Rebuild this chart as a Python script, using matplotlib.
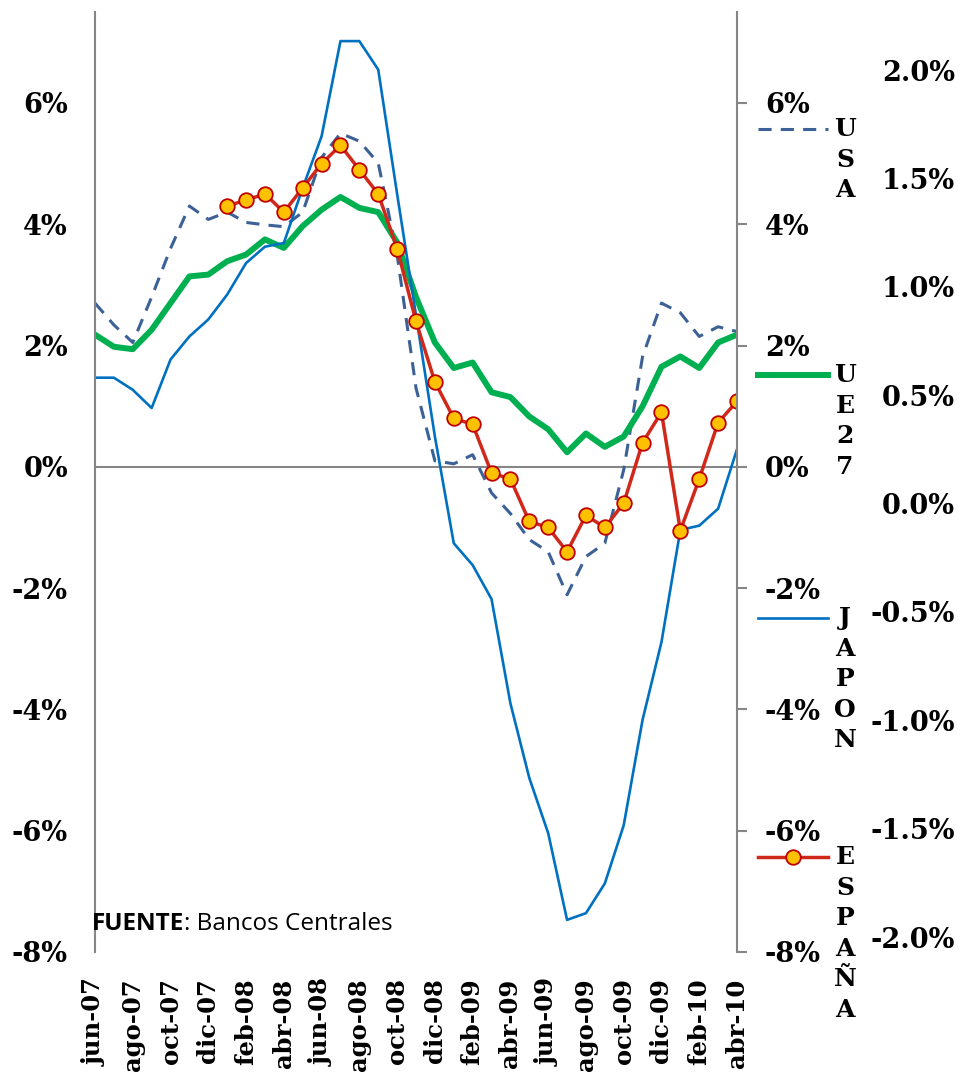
import numpy as np
import matplotlib
matplotlib.use('Agg')
import matplotlib.pyplot as plt
from matplotlib.lines import Line2D
from matplotlib.ticker import FuncFormatter

# monthly series, jun-07 .. abr-10 (% interanual)
meses = ['jun-07', 'jul-07', 'ago-07', 'sep-07', 'oct-07', 'nov-07', 'dic-07',
         'ene-08', 'feb-08', 'mar-08', 'abr-08', 'may-08', 'jun-08', 'jul-08',
         'ago-08', 'sep-08', 'oct-08', 'nov-08', 'dic-08', 'ene-09', 'feb-09',
         'mar-09', 'abr-09', 'may-09', 'jun-09', 'jul-09', 'ago-09', 'sep-09',
         'oct-09', 'nov-09', 'dic-09', 'ene-10', 'feb-10', 'mar-10', 'abr-10']

usa = [2.7, 2.34, 2.05, 2.8, 3.6, 4.3, 4.08, 4.2, 4.03, 3.99, 3.96, 4.2,
       5.1, 5.5, 5.37, 5.01, 3.5, 1.3, 0.1, 0.05, 0.2, -0.43, -0.77, -1.2,
       -1.4, -2.11, -1.48, -1.26, -0.05, 1.82, 2.7, 2.54, 2.15, 2.31, 2.23]

ue27 = [2.18, 1.98, 1.94, 2.26, 2.7, 3.14, 3.17, 3.39, 3.5, 3.75, 3.61, 3.97,
        4.24, 4.45, 4.27, 4.2, 3.7, 2.8, 2.05, 1.63, 1.72, 1.23, 1.15, 0.83,
        0.62, 0.24, 0.55, 0.33, 0.5, 1.0, 1.65, 1.82, 1.63, 2.05, 2.18]

japon = [1.47, 1.47, 1.27, 0.97, 1.77, 2.15, 2.43, 2.84, 3.36, 3.63, 3.69, 4.6,
         5.45, 7.02, 7.02, 6.55, 4.5, 2.5, 0.5, -1.26, -1.62, -2.18, -3.9, -5.13,
         -6.04, -7.47, -7.36, -6.87, -5.91, -4.17, -2.89, -1.04, -0.97, -0.69, 0.29]

espana = [np.nan] * 7 + [4.3, 4.4, 4.5, 4.2, 4.6, 5.0, 5.3, 4.9, 4.5, 3.6, 2.4,
                         1.4, 0.8, 0.7, -0.1, -0.2, -0.9, -1.0, -1.4, -0.8, -1.0,
                         -0.6, 0.4, 0.9, -1.05, -0.2, 0.73, 1.08]

ticks_izq = [-8, -6, -4, -2, 0, 2, 4, 6]
ticks_der = [-2.0, -1.5, -1.0, -0.5, 0.0, 0.5, 1.0, 1.5, 2.0]

C_USA = '#3C6196'
C_UE = '#00B050'
C_JAP = '#0070C0'
C_ESP = '#D0281A'
C_MARK = '#FFC000'
GRIS = '#868686'
SERIF = 'DejaVu Serif'
FS = 19.5

W, H = 963, 1079
fig = plt.figure(figsize=(W / 100, H / 100), dpi=100)
ax = fig.add_axes([95 / W, 1 - 952 / H, (737 - 95) / W, (952 - 12) / H])

x = np.arange(len(meses))
ax.plot(x, usa, color=C_USA, lw=2.2, dashes=(4.3, 3.0))
ax.plot(x, ue27, color=C_UE, lw=4.3)
ax.plot(x, japon, color=C_JAP, lw=1.9)
ax.plot(x, espana, color=C_ESP, lw=2.5, marker='o', ms=10.5,
        mfc=C_MARK, mec='#C00000', mew=1.3)

ax.axhline(0, color=GRIS, lw=1.5, zorder=1)
ax.set_xlim(0, len(meses) - 1)
ax.set_ylim(-8, 7.5)

pct = FuncFormatter(lambda v, p: f'{v:.0f}%')
ax.set_yticks(ticks_izq)
ax.yaxis.set_major_formatter(pct)
ax.tick_params(axis='y', length=0, pad=19.5, labelsize=FS)
ax.set_xticks(x[::2])
ax.set_xticklabels(meses[::2], rotation=90)
ax.tick_params(axis='x', length=0, pad=19, labelsize=17.5)
for s in ['top', 'bottom', 'right']:
    ax.spines[s].set_visible(False)
ax.spines['left'].set_color(GRIS)
ax.spines['left'].set_linewidth(1.5)

# middle axis (same scale as left)
ax2 = ax.twinx()
ax2.set_ylim(ax.get_ylim())
ax2.set_yticks(ticks_izq)
ax2.yaxis.set_major_formatter(pct)
ax2.tick_params(axis='y', length=7, width=1.5, color=GRIS, pad=13, labelsize=FS)
for s in ['top', 'bottom', 'left']:
    ax2.spines[s].set_visible(False)
ax2.spines['right'].set_color(GRIS)
ax2.spines['right'].set_linewidth(1.5)

# far right secondary scale
ax3 = ax.twinx()
ax3.set_ylim(-2.069, 2.268)
ax3.set_yticks(ticks_der)
ax3.yaxis.set_major_formatter(FuncFormatter(lambda v, p: f'{v:.1f}%'))
ax3.tick_params(axis='y', length=0, pad=157, labelsize=FS)
for lab in ax3.get_yticklabels():
    lab.set_ha('right')
for s in ax3.spines.values():
    s.set_visible(False)

for a in (ax, ax2, ax3):
    for lab in a.get_xticklabels() + a.get_yticklabels():
        lab.set_family(SERIF)
        lab.set_weight('bold')

# legend: handle + vertical letters
leyenda = [('USA', 129, dict(color=C_USA, lw=2.2, dashes=(4.3, 3.0))),
           ('UE27', 375, dict(color=C_UE, lw=4.3)),
           ('JAPON', 618, dict(color=C_JAP, lw=1.9)),
           ('ESPAÑA', 857, dict(color=C_ESP, lw=2.5))]
for nombre, yp, estilo in leyenda:
    yf = 1 - yp / H
    fig.add_artist(Line2D([758 / W, 828 / W], [yf, yf], transform=fig.transFigure, **estilo))
    for k, ch in enumerate(nombre):
        fig.text(845 / W, 1 - (yp + k * 30.6) / H, ch, ha='center', va='center',
                 family=SERIF, fontsize=18, weight='bold')
fig.add_artist(Line2D([793 / W], [1 - 857 / H], transform=fig.transFigure, marker='o',
                      ms=10.5, mfc=C_MARK, mec='#C00000', mew=1.3, lw=0))

t1 = fig.text(92 / W, 1 - 930 / H, 'FUENTE', family='Open Sans', fontsize=17.5,
              weight='bold', va='baseline')
ax.annotate(': Bancos Centrales', xy=(1, 0), xycoords=t1, va='bottom', ha='left',
            family='Open Sans', fontsize=17.5, annotation_clip=False)

fig.savefig('out.png', dpi=100)
